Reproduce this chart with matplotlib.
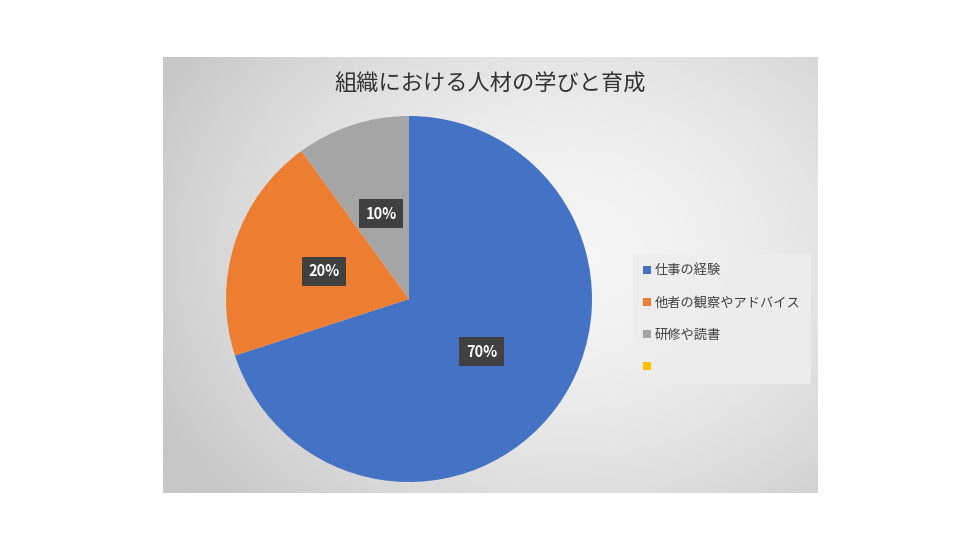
import numpy as np
import matplotlib
matplotlib.use("Agg")
from matplotlib import pyplot as plt
from matplotlib.patches import Patch

plt.rcParams['font.family'] = ['Noto Sans CJK JP', 'DejaVu Sans']

# Data
title = "組織における人材の学びと育成"
categories = ["仕事の経験", "他者の観察やアドバイス", "研修や読書", ""]
values = [70, 20, 10, 0]
colors = ["#4472C4", "#ED7D31", "#A5A5A5", "#FFC000"]

W, H = 980, 551
fig = plt.figure(figsize=(W / 100, H / 100), dpi=100)
fig.patch.set_facecolor("white")

# Gray gradient panel behind the chart
px0, py0, px1, py1 = 163, 57, 817, 493
bg = fig.add_axes([px0 / W, 1 - py1 / H, (px1 - px0) / W, (py1 - py0) / H])
xx, yy = np.meshgrid(np.linspace(0, 1, 300), np.linspace(0, 1, 200))
d = np.sqrt(((xx - 0.62) / 0.75) ** 2 + ((yy - 0.45) / 0.9) ** 2)
shade = np.clip(0.96 - 0.2 * d ** 1.6, 0.78, 1)
bg.imshow(shade, cmap="gray", vmin=0, vmax=1, aspect="auto",
          extent=[0, 1, 1, 0], interpolation="bicubic")
bg.set_xticks([]), bg.set_yticks([])
for s in bg.spines.values():
    s.set_visible(False)

fig.text((px0 + px1) / 2 / W, 1 - 84 / H, title, ha="center", va="center",
         fontsize=16, color="#333333")

# Pie
cx, cy, r = 409, 299, 183
ax = fig.add_axes([(cx - r) / W, 1 - (cy + r) / H, 2 * r / W, 2 * r / H])

def fmt(p):
    return "%d%%" % round(p) if p > 0.5 else ""

wedges, texts, autotexts = ax.pie(values, colors=colors, startangle=90,
                                  counterclock=False, radius=1,
                                  autopct=fmt, pctdistance=0.49,
                                  wedgeprops=dict(linewidth=0))
ax.set_xlim(-1, 1), ax.set_ylim(-1, 1)
ax.set_aspect("equal")
ax.axis("off")
for t in autotexts:
    if t.get_text():
        t.set_color("white")
        t.set_fontweight("bold")
        t.set_fontsize(10.5)
        t.set_bbox(dict(boxstyle="square,pad=0.45", facecolor="#404040",
                        edgecolor="none"))

handles = [Patch(facecolor=c, edgecolor="none") for c in colors]
leg = fig.legend(handles, categories, loc="upper left",
                 bbox_to_anchor=(633 / W, 1 - 260 / H, (811 - 633) / W, 0.01),
                 mode="expand", borderaxespad=0, frameon=True, fancybox=False,
                 fontsize=9.5, labelspacing=1.45, handlelength=0.6,
                 handleheight=0.6, handletextpad=0.3, borderpad=0.75,
                 labelcolor="#404040")
leg.get_frame().set_facecolor("#ededed")
leg.get_frame().set_edgecolor("none")
leg.get_frame().set_alpha(0.9)

fig.savefig("out.png", dpi=100, facecolor="white")
